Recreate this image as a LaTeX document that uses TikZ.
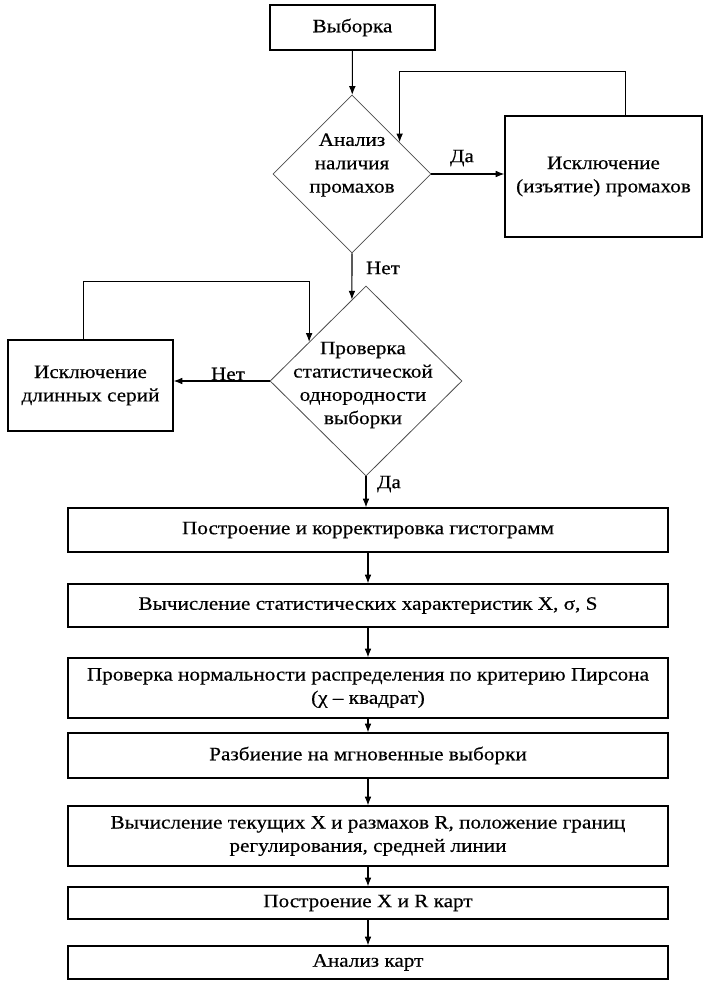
\documentclass[tikz,border=0pt]{standalone}
\usepackage{fontspec}
\setmainfont[FakeStretch=1.12, FakeBold=0.4]{Liberation Serif}
\usetikzlibrary{shapes.geometric, arrows.meta, calc}

\tikzset{
  block/.style={draw, line width=0.9pt, align=center, inner sep=2pt},
  decision/.style={diamond, draw=black!70, line width=0.6pt, inner sep=0pt},
  arrow/.style={-{Latex[length=6.5pt,width=5pt]}, line width=0.8pt},
}

\begin{document}
\begin{tikzpicture}[x=0.75pt, y=-0.75pt, font={\fontsize{14.2}{17.5}\selectfont}]
  \useasboundingbox (0,0) rectangle (708,990);
  % Upper part
  \node [block, minimum width=123.75pt, minimum height=33.75pt] (sample) at (352.5,27.5) {Выборка};
  \node [decision, minimum width=118.5pt, minimum height=118.5pt] (miss) at (352,174) {};
  \node [align=center] (misstext) at (352,165) {Анализ\\наличия\\промахов};
  \node [block, minimum width=147.75pt, minimum height=90.75pt] (exclmiss) at (603.5,176.5) {Исключение\\(изъятие) промахов};
  \node [decision, minimum width=144pt, minimum height=142.5pt] (check) at (366,381) {};
  \node [align=center] (checktext) at (363,385) {Проверка\\статистической\\однородности\\выборки};
  \node [block, minimum width=123.75pt, minimum height=68.25pt] (exclser) at (90.5,385.5) {Исключение\\длинных серий};
  % Main column
  \node [block, minimum width=450pt, minimum height=33pt] (hist) at (368,530) {Построение и корректировка гистограмм};
  \node [block, minimum width=450pt, minimum height=32.25pt] (stats) at (368,605.5) {Вычисление статистических характеристик X, σ, S};
  \node [block, minimum width=450pt, minimum height=45pt] (norm) at (368,688) {Проверка нормальности распределения по критерию Пирсона\\(χ – квадрат)};
  \node [block, minimum width=450pt, minimum height=33.75pt] (split) at (368,755.5) {Разбиение на мгновенные выборки};
  \node [block, minimum width=450pt, minimum height=45pt] (limits) at (368,836) {Вычисление текущих X и размахов R, положение границ\\регулирования, средней линии};
  \node [block, minimum width=450pt, minimum height=24pt] (charts) at (368,903) {Построение X и R карт};
  \node [block, minimum width=450pt, minimum height=24.75pt] (analysis) at (368,962.5) {Анализ карт};
  % Labels
  \node (yes1) at (462,158) {Да};
  \node (no1) at (383,268) {Нет};
  \node (no2) at (228,374) {Нет};
  \node (yes2) at (389,484) {Да};
  % Connectors
  \draw [arrow] (sample) -- (miss);
  \draw [arrow] (miss.east) -- (miss.east -| exclmiss.west);
  \draw [arrow] ([xshift=16.5pt]exclmiss.north) -- ++(0,-44) -| ($(miss.north)!0.6!(miss.east)$);
  \draw [arrow] (miss.south) -- ($(check.north)!0.146!(check.west)$);
  \draw [arrow] (check.west) -- (check.west -| exclser.east);
  \draw [arrow] ([xshift=-5.6pt]exclser.north) -- ++(0,-58) -| ($(check.north)!0.59!(check.west)$);
  \draw [arrow] (check.south) -- (check.south |- hist.north);
  \foreach \a/\b in {hist/stats, stats/norm, norm/split, split/limits, limits/charts, charts/analysis}
    \draw [arrow] (\a) -- (\b);
\end{tikzpicture}
\end{document}
